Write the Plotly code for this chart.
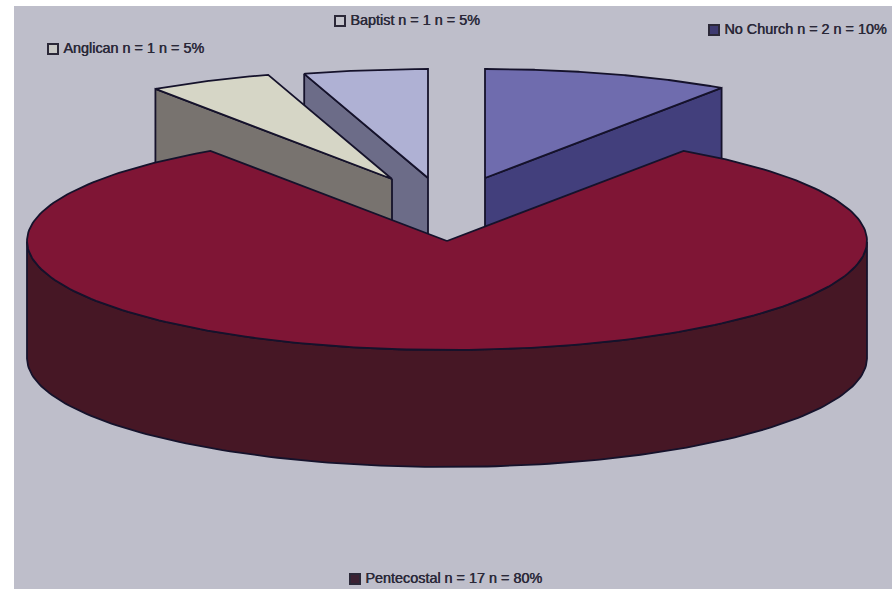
import numpy as np
import plotly.graph_objects as go

# Data
labels = ["No Church", "Pentecostal", "Anglican", "Baptist"]
counts = [2, 17, 1, 1]
percents = [10, 80, 5, 5]

# Style
top_colors = ["#6F6CAE", "#7F1535", "#D6D6C6", "#AFB1D4"]
side_colors = ["#423F7C", "#461725", "#78736F", "#6C6C88"]
legend_fill = ["#3E3A70", "#3C2233", "#C9C9C6", "#C4C4CC"]
edge = "#15122B"
cx, cy, a, b, depth = 447, 241, 420, 109, 117
explode = {"No Church": (38, -63), "Pentecostal": (0, 0), "Anglican": (-55, -62), "Baptist": (-19, -63)}
legend_pos = {"No Church": (714, 30), "Pentecostal": (355, 579), "Anglican": (53, 49), "Baptist": (340, 21)}

# Angles clockwise from the top of the pie
total = sum(counts)
sweeps = [c / total * 360 for c in counts]
starts = 90 - np.concatenate([[0], np.cumsum(sweeps)[:-1]])
spans = {l: (s, s - w) for l, s, w in zip(labels, starts, sweeps)}

def pt(theta, ox, oy, dz=0):
    t = np.radians(theta)
    return cx + ox + a * np.cos(t), cy + oy - b * np.sin(t) + dz

fig = go.Figure()

def poly(xs, ys, color):
    fig.add_trace(go.Scatter(x=list(xs), y=list(ys), mode="lines", fill="toself", fillcolor=color,
                             line=dict(color=edge, width=1.8), hoverinfo="skip", showlegend=False))

def draw(label):
    i = labels.index(label)
    s, e = spans[label]
    ox, oy = explode[label]
    th = np.linspace(s, e, 240)
    ax, ay = pt(th, ox, oy)
    apex = (cx + ox, cy + oy)
    if label == "Pentecostal":
        # outer wall, visible along the front half
        w = th[(np.sin(np.radians(th)) <= 0)]
        x1, y1 = pt(w, ox, oy)
        x2, y2 = pt(w[::-1], ox, oy, depth)
        poly(np.r_[x1, x2, x1[0]], np.r_[y1, y2, y1[0]], side_colors[i])
    else:
        # radial wall that faces the viewer
        side = e if label == "No Church" else s
        ex, ey = pt(side, ox, oy)
        poly([apex[0], ex, ex, apex[0], apex[0]],
             [apex[1], ey, ey + depth, apex[1] + depth, apex[1]], side_colors[i])
    poly(np.r_[apex[0], ax, apex[0]], np.r_[apex[1], ay, apex[1]], top_colors[i])

for name in ["Baptist", "Anglican", "No Church", "Pentecostal"]:
    draw(name)

for i, l in enumerate(labels):
    x, y = legend_pos[l]
    fig.add_trace(go.Scatter(x=[x], y=[y], mode="markers+text",
                             text=[f"\u2009{l} n = {counts[i]} n = {percents[i]}%"],
                             textposition="middle right",
                             textfont=dict(family="Liberation Sans", size=14.4, color="#2A2838",
                                           shadow="0.5px 0 0 #2A2838"),
                             marker=dict(symbol="square", size=10, color=legend_fill[i],
                                         line=dict(color="#2B2838", width=2)),
                             hoverinfo="skip", showlegend=False, cliponaxis=False))

fig.update_layout(
    width=892, height=589, margin=dict(l=0, r=0, t=0, b=0), paper_bgcolor="white", plot_bgcolor="white",
    xaxis=dict(range=[0, 892], visible=False, fixedrange=True),
    yaxis=dict(range=[589, 0], visible=False, fixedrange=True),
    shapes=[dict(type="rect", layer="below", x0=14, x1=892, y0=6, y1=589,
                 fillcolor="#BEBECA", line=dict(width=0))],
)
fig.write_html("out.html", config={"displayModeBar": False},
               post_script="document.body.style.margin='0';document.body.style.overflow='hidden';")
